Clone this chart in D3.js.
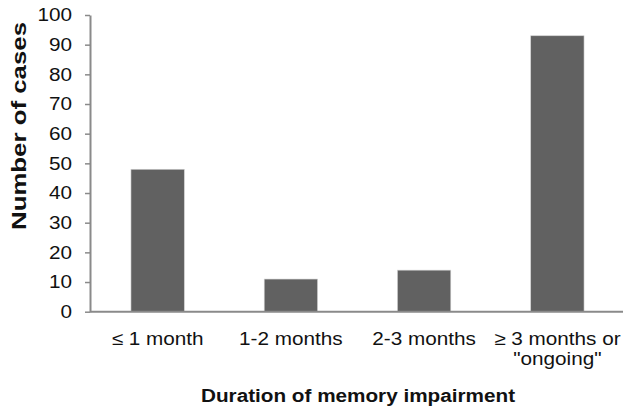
<!DOCTYPE html>
<html><head><meta charset="utf-8">
<script src="https://cdn.jsdelivr.net/npm/d3@7"></script>
<style>body{margin:0;background:#fff}svg{display:block}</style>
</head><body>
<script>
const categories = [["≤ 1 month"], ["1-2 months"], ["2-3 months"], ["≥ 3 months or", "\"ongoing\""]];
const values = [48, 11, 14, 93];
const yTicks = [0,10,20,30,40,50,60,70,80,90,100];

const W = 626, H = 413;
const m = {left: 90, right: 3, top: 15, bottom: 101};
const svg = d3.select("body").append("svg").attr("width", W).attr("height", H);
const font = "Liberation Sans, Arial, Helvetica, sans-serif";
const FS = 18.5, SX = 1.12;

const x = d3.scaleBand().domain(d3.range(categories.length)).range([m.left, W - m.right]).paddingInner(0.6).paddingOuter(0.3);
const y = d3.scaleLinear().domain([0, 100]).range([H - m.bottom - 0.3, m.top]);

svg.selectAll("rect.bar").data(values).enter().append("rect")
  .attr("x", (d,i) => x(i) + 1).attr("width", x.bandwidth())
  .attr("y", d => y(d)).attr("height", d => y(0) - y(d))
  .attr("fill", "#616161").attr("stroke", "#cfcfcf").attr("stroke-width", 0.6);

const yAxis = svg.append("g").attr("transform", `translate(${m.left},0)`)
  .call(d3.axisLeft(y).tickValues(yTicks).tickSize(5).tickPadding(13).tickSizeOuter(0));
yAxis.select(".domain").attr("stroke", "#8a8a8a").attr("stroke-width", 2);
yAxis.selectAll(".tick line").attr("stroke", "#8a8a8a").attr("stroke-width", 1.5);
yAxis.selectAll("text").attr("font-family", font).attr("font-size", FS).attr("fill", "#111")
  .attr("x", -18 / SX).attr("transform", `scale(${SX},1)`);

svg.append("line").attr("x1", m.left).attr("x2", W - m.right).attr("y1", y(0)).attr("y2", y(0))
  .attr("stroke", "#8a8a8a").attr("stroke-width", 2);

const xl = svg.append("g").selectAll("g").data(categories).enter().append("g")
  .attr("transform", (d,i) => `translate(${x(i) + x.bandwidth()/2 + 1},${y(0) + 33}) scale(${SX},1)`);
xl.each(function(d){
  const g = d3.select(this);
  d.forEach((s, j) => g.append("text").attr("x", 0).attr("y", j * 20)
    .attr("text-anchor", "middle").attr("font-family", font).attr("font-size", FS).attr("fill", "#111").text(s));
});

svg.append("text").attr("transform", `translate(358,402) scale(${SX},1)`).attr("text-anchor", "middle")
  .attr("font-family", font).attr("font-size", FS).attr("font-weight", "bold").attr("fill", "#111")
  .text("Duration of memory impairment");

svg.append("text").attr("transform", `translate(26,126) rotate(-90)`)
  .attr("text-anchor", "middle").attr("font-family", font).attr("font-size", 19.5).attr("font-weight", "bold").attr("fill", "#111")
  .attr("textLength", 208).attr("lengthAdjust", "spacingAndGlyphs")
  .text("Number of cases");
</script>
</body></html>
